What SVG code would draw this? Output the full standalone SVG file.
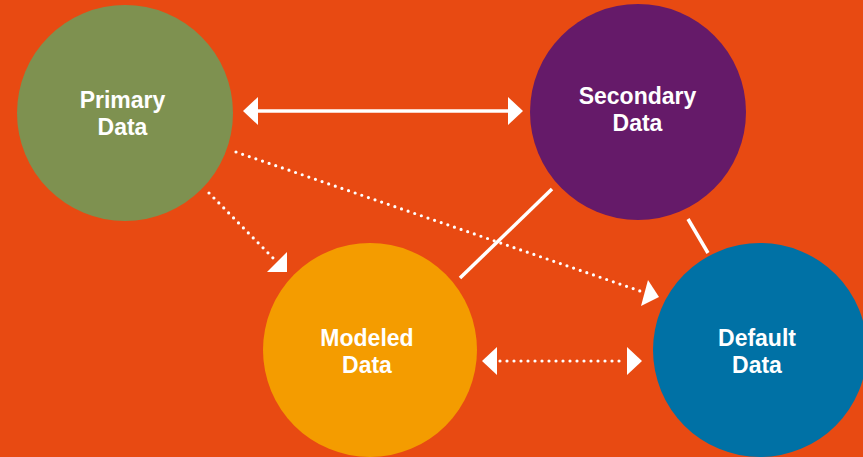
<svg xmlns="http://www.w3.org/2000/svg" width="863" height="457" viewBox="0 0 863 457">
<style>
.lbl{font-family:"Liberation Sans",Arial,sans-serif;font-weight:bold;font-size:23px;fill:#fff;text-anchor:middle}
.solid{stroke:#fff;stroke-width:3.5;fill:none}
.dot{stroke:#fff;stroke-width:3.2;stroke-linecap:round;stroke-dasharray:0 7;fill:none}
.head{fill:#fff}
</style>
<rect width="863" height="457" fill="#E84A12"/>
<g id="primary"><circle cx="125" cy="113" r="108" fill="#7E9150"/><text class="lbl" x="122.5" y="108">Primary</text><text class="lbl" x="122.5" y="135">Data</text></g>
<g id="secondary"><circle cx="638" cy="112" r="108" fill="#651A69"/><text class="lbl" x="637.5" y="104">Secondary</text><text class="lbl" x="637.5" y="131">Data</text></g>
<g id="modeled"><circle cx="370" cy="350" r="107" fill="#F49C00"/><text class="lbl" x="367" y="346">Modeled</text><text class="lbl" x="367" y="373">Data</text></g>
<g id="default"><circle cx="760" cy="350" r="107" fill="#0071A5"/><text class="lbl" x="757" y="346">Default</text><text class="lbl" x="757" y="373">Data</text></g>
<g id="connectors">
<line class="solid" x1="256" y1="111" x2="510" y2="111" stroke-width="4"/>
<polygon class="head" points="243,111 258,97 258,125"/>
<polygon class="head" points="523,111 508,97 508,125"/>
<line class="dot" x1="209" y1="193" x2="275" y2="260"/>
<polygon class="head" points="287,272 287,252 267,272"/>
<line class="dot" x1="236" y1="152" x2="643" y2="292"/>
<polygon class="head" points="659,297 648,280 641,306"/>
<line class="dot" x1="500" y1="361" x2="626" y2="361"/>
<polygon class="head" points="482,361 497,347 497,375"/>
<polygon class="head" points="642,361 627,347 627,375"/>
<line class="solid" x1="460" y1="278" x2="552" y2="189"/>
<line class="solid" x1="688" y1="219" x2="708" y2="253"/>
</g>
</svg>
